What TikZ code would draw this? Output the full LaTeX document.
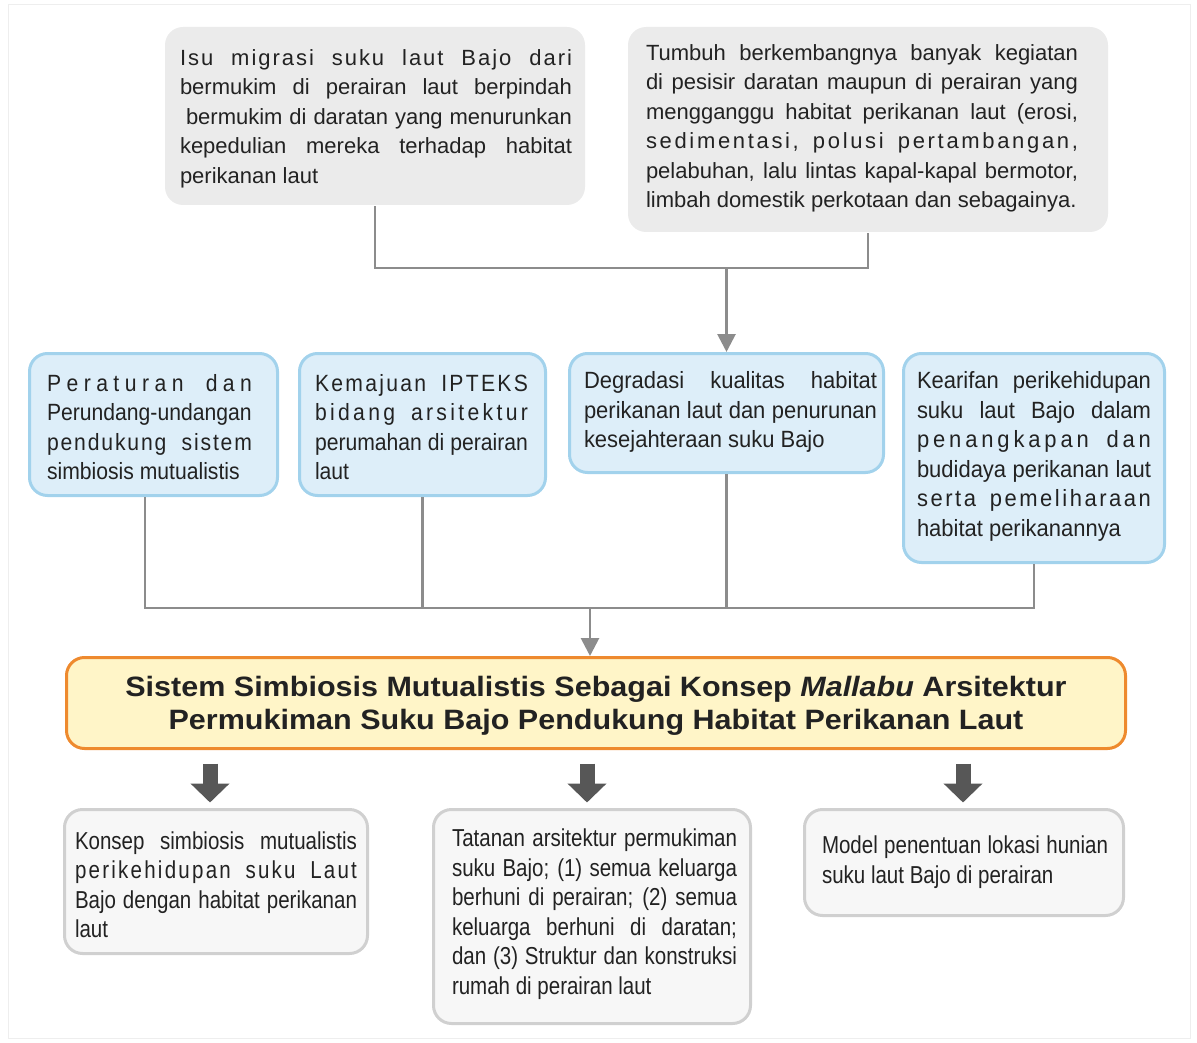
\documentclass[tikz,border=0pt]{standalone}
\usepackage{fontspec}
\setmainfont{Liberation Sans}
\newfontfamily\bluefont[FakeStretch=0.9]{Liberation Sans}
\newfontfamily\bluewidefont[FakeStretch=0.935]{Liberation Sans}
\newfontfamily\botfont[FakeStretch=0.837]{Liberation Sans}
\newfontfamily\titlefont[FakeStretch=1.09]{Liberation Sans}
\usetikzlibrary{arrows.meta,calc}

\definecolor{topfill}{HTML}{EBEBEB}
\definecolor{bluefill}{HTML}{DDEEF9}
\definecolor{blueline}{HTML}{A2D2EC}
\definecolor{ttlfill}{HTML}{FFF5C8}
\definecolor{ttlline}{HTML}{EE8A2E}
\definecolor{botfill}{HTML}{F7F7F7}
\definecolor{botline}{HTML}{D0D0D0}
\definecolor{connline}{HTML}{8C8C8C}
\definecolor{bigarrow}{HTML}{575757}
\definecolor{ink}{HTML}{222222}
\definecolor{frameline}{HTML}{EEEEEE}

% a line set to the full width, with the space spread between its letters;
% the optional argument weights the extra space put between words
\ExplSyntaxOn
\tl_new:N \l__spread_line_tl
\NewDocumentCommand \spreadline { O{1} m }
  {
    \tl_clear:N \l__spread_line_tl
    \seq_set_split:Nnn \l_tmpa_seq { ~ } { #2 }
    \seq_map_inline:Nn \l_tmpa_seq
      {
        \tl_if_empty:NF \l__spread_line_tl
          {
            \tl_put_right:Nn \l__spread_line_tl
              { \c_space_tl \hskip 0pt plus #1 fil \scan_stop: }
          }
        \tl_map_inline:nn { ##1 }
          { \tl_put_right:Nn \l__spread_line_tl { ####1 \hfil } }
      }
    \hbox_to_wd:nn { \hsize }
      {
        \spaceskip = \fontdimen2\font \scan_stop:
        \xspaceskip = \spaceskip
        \l__spread_line_tl \unskip
      }
  }
\ExplSyntaxOff
% a line justified to the full width by its word spaces
\newcommand\jl[1]{\hbox to \hsize{\spaceskip=\fontdimen2\font plus 1fil\relax
  \xspaceskip=\spaceskip #1}}
% a closing line at its natural width
\newcommand\el[1]{\hbox{\spaceskip=\fontdimen2\font\relax\xspaceskip=\spaceskip #1}}

\begin{document}
\begin{tikzpicture}[x=1pt,y=-1pt,
  box/.style={rounded corners=18pt, inner sep=0pt, line width=3pt},
  topbox/.style={box, fill=topfill},
  bluebox/.style={box, fill=bluefill, draw=blueline},
  ttlbox/.style={box, fill=ttlfill, draw=ttlline},
  botbox/.style={box, fill=botfill, draw=botline},
  txt/.style={inner sep=0pt, align=left, text=ink},
  toptxt/.style={txt, font=\fontsize{22}{29.5}\selectfont},
  bluetxt/.style={txt, font=\bluefont\fontsize{23.5}{29.5}\selectfont},
  bluewidetxt/.style={txt, font=\bluewidefont\fontsize{23.5}{29.5}\selectfont},
  bottxt/.style={txt, font=\botfont\fontsize{24.5}{29.5}\selectfont},
  ttltxt/.style={inner sep=0pt, align=center, text=ink,
    font=\titlefont\bfseries\fontsize{28}{33}\selectfont},
  conn/.style={draw=connline, line width=2.8pt},
  connarrow/.style={conn, -{Triangle[width=18pt,length=18pt]}},
  bigarr/.style={draw=bigarrow, line width=15pt, -{Triangle[width=38pt,length=19pt]}},
]
\useasboundingbox (0,0) rectangle (1197,1043);
\draw[frameline, line width=1pt] (8,5) rectangle (1190,1038);

% issues at the top
\node[topbox, minimum width=420, minimum height=178] (t1) at (375,116) {};
\node[toptxt, text width=392] (t1x) at (376,118.5)
  {\spreadline[5]{Isu migrasi suku laut Bajo dari}
   \jl{bermukim di perairan laut berpindah}
   \jl{\kern6pt bermukim di daratan yang menurunkan}
   \jl{kepedulian mereka terhadap habitat}
   \el{perikanan laut}};

\node[topbox, minimum width=480, minimum height=205] (t2) at (868,129.5) {};
\node[toptxt, text width=432] (t2x) at (862,128.5)
  {\jl{Tumbuh berkembangnya banyak kegiatan}
   \jl{di pesisir daratan maupun di perairan yang}
   \jl{mengganggu habitat perikanan laut (erosi,}
   \spreadline[2]{sedimentasi, polusi pertambangan,}
   \jl{pelabuhan, lalu lintas kapal-kapal bermotor,}
   \el{limbah domestik perkotaan dan sebagainya.}};

% factors in the middle row
\node[bluebox, minimum width=248, minimum height=142] (b1) at (153.5,424.5) {};
\node[bluetxt, text width=205] (b1x) at (149.5,427)
  {\spreadline[2]{Peraturan dan}
   \el{Perundang-undangan}
   \spreadline[4]{pendukung sistem}
   \el{simbiosis mutualistis}};

\node[bluebox, minimum width=246, minimum height=142] (b2) at (422.5,424.5) {};
\node[bluetxt, text width=213] (b2x) at (421.5,427)
  {\spreadline[3]{Kemajuan IPTEKS}
   \spreadline[2]{bidang arsitektur}
   \jl{perumahan di perairan}
   \el{laut}};

\node[bluebox, minimum width=314, minimum height=119] (b3) at (726.5,413) {};
\node[bluewidetxt, text width=293] (b3x) at (730.5,412)
  {\jl{Degradasi kualitas habitat}
   \jl{perikanan laut dan penurunan}
   \el{kesejahteraan suku Bajo}};

\node[bluebox, minimum width=261, minimum height=209] (b4) at (1034,458) {};
\node[bluewidetxt, text width=234] (b4x) at (1034,456.5)
  {\jl{Kearifan perikehidupan}
   \jl{suku laut Bajo dalam}
   \spreadline[2]{penangkapan dan}
   \jl{budidaya perikanan laut}
   \spreadline[2]{serta pemeliharaan}
   \el{habitat perikanannya}};

% central concept
\node[ttlbox, minimum width=1059, minimum height=91] (ttl) at (596,703) {};
\node[ttltxt] (ttlx) at (596,705.5)
  {Sistem Simbiosis Mutualistis Sebagai Konsep \textit{Mallabu} Arsitektur\\
   Permukiman Suku Bajo Pendukung Habitat Perikanan Laut};

% outcomes
\node[botbox, minimum width=303, minimum height=144] (c1) at (216,881.5) {};
\node[bottxt, text width=282] (c1x) at (216,884.5)
  {\jl{Konsep simbiosis mutualistis}
   \spreadline[3]{perikehidupan suku Laut}
   \jl{Bajo dengan habitat perikanan}
   \el{laut}};

\node[botbox, minimum width=317, minimum height=214] (c2) at (592,916.5) {};
\node[bottxt, text width=285] (c2x) at (594.5,914)
  {\jl{Tatanan arsitektur permukiman}
   \jl{suku Bajo; (1) semua keluarga}
   \jl{berhuni di perairan; (2) semua}
   \jl{keluarga berhuni di daratan;}
   \jl{dan (3) Struktur dan konstruksi}
   \el{rumah di perairan laut}};

\node[botbox, minimum width=319, minimum height=106] (c3) at (964,862.5) {};
\node[bottxt, text width=286] (c3x) at (965,862)
  {\jl{Model penentuan lokasi hunian}
   \el{suku laut Bajo di perairan}};

% connectors: top issues into the degradation box
\coordinate (j1) at (726.5,268);
\draw[conn] (t1.south) -- (t1.south |- j1) -- (t2.south |- j1) -- (t2.south);
\draw[connarrow] (j1) -- (b3.north);

% connectors: middle row into the central concept
\coordinate (j2) at (590,608);
\coordinate (b1s) at ($(b1.south)+(-8.5,0)$);
\draw[conn] (b1s) -- (b1s |- j2) -- (b4.south |- j2) -- (b4.south);
\draw[conn] (b2.south) -- (b2.south |- j2);
\draw[conn] (b3.south) -- (b3.south |- j2);
\draw[connarrow] (j2) -- (j2 |- ttl.north);

% block arrows down to the outcomes
\draw[bigarr] ($(c1.north |- ttl.south)+(-6,13.5)$) -- ($(c1.north)+(-6,-5.5)$);
\draw[bigarr] ($(c2.north |- ttl.south)+(-5,13.5)$) -- ($(c2.north)+(-5,-5.5)$);
\draw[bigarr] ($(c3.north |- ttl.south)+(-1,13.5)$) -- ($(c3.north)+(-1,-5.5)$);
\end{tikzpicture}
\end{document}
